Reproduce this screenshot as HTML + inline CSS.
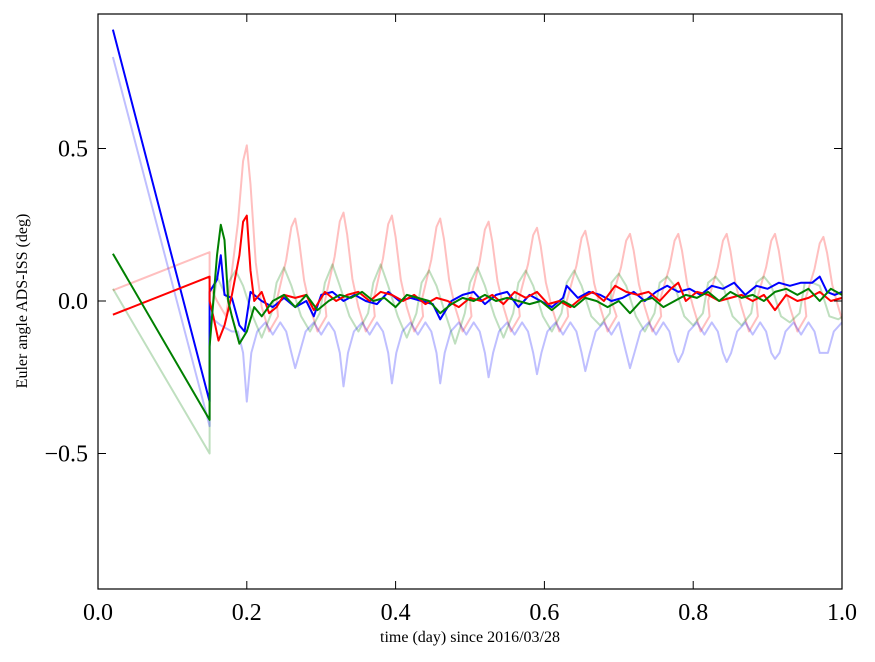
<!DOCTYPE html>
<html><head><meta charset="utf-8"><style>
html,body{margin:0;padding:0;background:#fff;}
svg{display:block;font-family:"Liberation Serif",serif;}
</style></head><body>
<svg id="chart" width="875" height="662"></svg>
<script>
const xTicks=[0.0,0.2,0.4,0.6,0.8,1.0];
const xTickLabels=["0.0","0.2","0.4","0.6","0.8","1.0"];
const yTicks=[0.5,0.0,-0.5];
const yTickLabels=["0.5","0.0","\u22120.5"];
const peaks=[0.2,0.265,0.33,0.395,0.46,0.525,0.59,0.655,0.715,0.78,0.845,0.91,0.975];
const redPeakVals=[0.51,0.27,0.29,0.28,0.27,0.26,0.24,0.23,0.22,0.22,0.22,0.22,0.21];
const blueDipVals=[-0.33,-0.22,-0.28,-0.27,-0.27,-0.25,-0.24,-0.23,-0.22,-0.2,-0.2,-0.19,-0.17];
const greenPeakVals=[0.1,0.11,0.12,0.12,0.1,0.11,0.1,0.1,0.09,0.08,0.08,0.08,0.06];
const greenTroughVals=[-0.12,-0.1,-0.1,-0.12,-0.14,-0.12,-0.1,-0.08,-0.1,-0.08,-0.08,-0.07,-0.06];
const blueSolid=[[0.02,0.89],[0.15,-0.33],[0.15,0.03],[0.155,0.05],[0.16,0.07],[0.165,0.15],[0.17,0.02],[0.18,0.01],[0.19,-0.08],[0.197,-0.1],[0.205,0.03],[0.22,0.0],[0.235,-0.02],[0.25,0.01],[0.265,-0.02],[0.28,0.0],[0.29,-0.05],[0.3,0.02],[0.315,0.03],[0.33,0.0],[0.345,0.02],[0.36,0.0],[0.375,-0.01],[0.39,0.03],[0.405,0.0],[0.42,0.01],[0.435,0.0],[0.45,-0.01],[0.46,-0.06],[0.475,0.0],[0.49,0.02],[0.505,0.03],[0.52,-0.01],[0.535,0.02],[0.55,0.03],[0.565,-0.02],[0.58,0.02],[0.595,0.0],[0.61,-0.02],[0.625,0.01],[0.63,0.05],[0.645,0.01],[0.66,0.03],[0.675,0.02],[0.69,0.0],[0.705,0.01],[0.72,0.03],[0.735,0.0],[0.75,0.03],[0.765,0.05],[0.78,0.03],[0.795,0.04],[0.81,0.02],[0.825,0.05],[0.84,0.04],[0.855,0.06],[0.87,0.02],[0.885,0.05],[0.9,0.04],[0.915,0.06],[0.93,0.05],[0.945,0.06],[0.96,0.06],[0.97,0.08],[0.98,0.03],[0.99,0.02],[1.0,0.03]];
const redSolid=[[0.02,-0.045],[0.15,0.08],[0.15,0.0],[0.155,-0.05],[0.162,-0.13],[0.17,-0.08],[0.18,0.02],[0.19,0.15],[0.195,0.26],[0.2,0.28],[0.205,0.1],[0.21,0.0],[0.22,0.03],[0.23,-0.04],[0.24,-0.02],[0.25,0.02],[0.265,0.01],[0.28,0.02],[0.29,-0.03],[0.305,0.03],[0.32,0.0],[0.335,0.02],[0.35,0.03],[0.365,0.0],[0.38,0.03],[0.395,0.02],[0.41,0.0],[0.425,0.02],[0.44,-0.01],[0.455,0.01],[0.47,0.0],[0.485,-0.02],[0.5,0.01],[0.515,0.0],[0.53,0.02],[0.545,-0.01],[0.56,0.03],[0.575,0.01],[0.59,0.03],[0.605,-0.01],[0.62,0.0],[0.635,-0.02],[0.65,0.01],[0.665,0.03],[0.68,0.0],[0.695,0.05],[0.71,0.03],[0.725,0.02],[0.74,0.03],[0.755,0.0],[0.77,0.04],[0.78,0.06],[0.79,0.0],[0.805,0.03],[0.82,0.02],[0.835,0.0],[0.85,0.01],[0.865,0.02],[0.88,0.0],[0.895,0.02],[0.91,-0.03],[0.925,0.02],[0.94,0.0],[0.955,0.01],[0.97,0.03],[0.985,0.0],[1.0,0.01]];
const greenSolid=[[0.02,0.155],[0.15,-0.39],[0.15,-0.15],[0.155,0.0],[0.16,0.15],[0.165,0.25],[0.17,0.2],[0.175,0.0],[0.18,-0.05],[0.19,-0.14],[0.2,-0.1],[0.21,-0.02],[0.22,-0.05],[0.235,0.0],[0.25,0.02],[0.265,-0.02],[0.28,0.02],[0.295,-0.03],[0.31,0.0],[0.325,0.02],[0.34,0.01],[0.355,0.03],[0.37,0.0],[0.385,0.01],[0.4,-0.02],[0.415,0.02],[0.43,0.01],[0.445,0.0],[0.46,-0.04],[0.475,-0.01],[0.49,0.01],[0.505,0.0],[0.52,0.02],[0.535,0.0],[0.55,0.01],[0.565,0.0],[0.58,-0.01],[0.595,0.0],[0.61,-0.03],[0.625,0.0],[0.64,-0.02],[0.655,0.01],[0.67,0.0],[0.685,-0.02],[0.7,0.0],[0.715,-0.04],[0.73,0.0],[0.745,0.01],[0.76,-0.02],[0.775,0.0],[0.79,0.02],[0.805,0.01],[0.82,0.03],[0.835,0.0],[0.85,0.03],[0.865,0.01],[0.88,0.02],[0.895,0.0],[0.91,0.03],[0.925,0.04],[0.94,0.02],[0.955,0.04],[0.97,0.0],[0.985,0.04],[1.0,0.02]];

const L=98,R=842,T=14,B=589,Y0=301,YS=305;
const X=v=>L+v*(R-L);
const Y=v=>Y0-v*YS;
const NS="http://www.w3.org/2000/svg";
const svg=document.getElementById('chart');
function mk(t,a,p){const e=document.createElementNS(NS,t);for(const k in a)e.setAttribute(k,a[k]);(p||svg).appendChild(e);return e;}

const faintRed=[[0.02,0.035],[0.15,0.16],[0.15,0.05],[0.16,0.0],[0.172,-0.05]];
const faintBlue=[[0.02,0.8],[0.15,-0.41],[0.15,-0.05],[0.165,-0.08],[0.18,-0.1]];
const faintGreen=[[0.02,0.04],[0.15,-0.5],[0.15,-0.1],[0.16,0.08],[0.175,0.0]];
peaks.forEach((p,i)=>{
  const h=redPeakVals[i];
  faintRed.push([p-0.025,0.0],[p-0.012,h*0.5],[p-0.005,h*0.9],[p,h],[p+0.005,h*0.75],[p+0.012,h*0.25],[p+0.02,-0.02],[p+0.03,-0.1],[p+0.042,-0.05]);
  const d=blueDipVals[i];
  faintBlue.push([p-0.012,-0.1],[p-0.005,-0.17],[p,d],[p+0.006,-0.17],[p+0.014,-0.1],[p+0.025,-0.07],[p+0.035,-0.11],[p+0.045,-0.07]);
  faintGreen.push([p-0.025,0.06],[p-0.015,greenPeakVals[i]],[p-0.005,0.05],[p+0.008,-0.05],[p+0.02,greenTroughVals[i]],[p+0.033,-0.04]);
});
faintRed.push([1.0,-0.02]);faintBlue.push([1.0,-0.08]);faintGreen.push([1.0,-0.05]);

const clip=mk('clipPath',{id:'pc'});mk('rect',{x:L,y:T,width:R-L,height:B-T},clip);
const g=mk('g',{'clip-path':'url(#pc)'});


function line(pts,color,op,name){
  const e=mk('polyline',{points:pts.map(p=>X(p[0]).toFixed(1)+','+Y(p[1]).toFixed(1)).join(' '),fill:'none',stroke:color,'stroke-opacity':op,'stroke-width':2,'stroke-linejoin':'round'},g);
  
  
}
line(faintRed,'#ff0000',0.25,'faint-red-series');
line(faintGreen,'#008000',0.25,'faint-green-series');
line(faintBlue,'#0000ff',0.25,'faint-blue-series');
line(blueSolid,'#0000ff',1,'blue-series');
line(redSolid,'#ff0000',1,'red-series');
line(greenSolid,'#008000',1,'green-series');

const frame=mk('rect',{x:L,y:T,width:R-L,height:B-T,fill:'none',stroke:'#000','stroke-width':1.2});


xTicks.forEach((v,i)=>{
  mk('line',{x1:X(v),x2:X(v),y1:B,y2:B-8,stroke:'#000'});
  mk('line',{x1:X(v),x2:X(v),y1:T,y2:T+8,stroke:'#000'});
  const t=mk('text',{x:X(v),y:B+31,'text-anchor':'middle','font-size':24});
  t.textContent=xTickLabels[i];
  
  
});
yTicks.forEach((v,i)=>{
  mk('line',{x1:L,x2:L+8,y1:Y(v),y2:Y(v),stroke:'#000'});
  mk('line',{x1:R,x2:R-8,y1:Y(v),y2:Y(v),stroke:'#000'});
  const t=mk('text',{x:L-10,y:Y(v)+8,'text-anchor':'end','font-size':24});
  t.textContent=yTickLabels[i];
  
  
});
const xt=mk('text',{x:470,y:642,'text-anchor':'middle','font-size':16});
xt.textContent='time (day) since 2016/03/28';


const yt=mk('text',{x:0,y:0,'text-anchor':'middle','font-size':16,transform:'translate(27,301) rotate(-90)'});
yt.textContent='Euler angle ADS-ISS (deg)';


</script>
</body></html>
